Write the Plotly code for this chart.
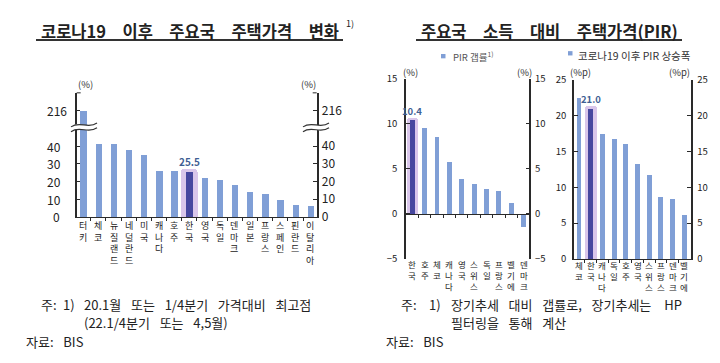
import plotly.graph_objects as go

W, H = 720, 363
FONT = "Noto Sans CJK KR"

# ---------------- data ----------------
left_countries = ['터키', '체코', '뉴질랜드', '네덜란드', '미국', '캐나다', '호주', '한국',
                  '영국', '독일', '덴마크', '일본', '프랑스', '스페인', '핀란드', '이탈리아']
left_values = [216, 41.3, 41.1, 37.8, 35.0, 26.0, 26.0, 25.5,
               22.3, 20.7, 18.2, 14.2, 12.8, 9.4, 7.0, 6.1]
left_tick_values = [0, 10, 20, 30, 40, 216]

mid_countries = ['한국', '호주', '체코', '캐나다', '영국', '스위스', '독일', '프랑스', '벨기에', '덴마크']
mid_values = [10.4, 9.6, 8.5, 5.8, 3.9, 3.3, 2.8, 2.5, 1.25, -1.4]
mid_tick_values = [-5, 0, 5, 10, 15]

right_countries = ['체코', '한국', '캐나다', '독일', '호주', '영국', '스위스', '프랑스', '덴마크', '벨기에']
right_values = [22.5, 21.0, 17.5, 16.7, 16.0, 13.2, 11.7, 8.6, 8.4, 6.1]
right_tick_values = [0, 5, 10, 15, 20, 25]

highlight_country = '한국'

BAR = '#809fd6'
DARK = '#46479f'
HL = '#d9c6ea'
AX = '#2a2a2a'
LBL = '#3f5f93'


def px(x):
    return x / W


def py(y):
    return 1 - y / H


def brk(v):
    # axis break: values above the break are drawn at the "216" tick position
    return v if v <= 45 else 60 + (v - 216) / 8.0


fig = go.Figure()

# ---------- left panel ----------
li = left_countries.index(highlight_country)
fig.add_trace(go.Bar(x=[li], y=[brk(left_values[li]) + 1.6], width=[1.1],
                     marker=dict(color=HL, cornerradius=4, line=dict(width=0)),
                     xaxis='x', yaxis='y', hoverinfo='skip', showlegend=False))
fig.add_trace(go.Bar(x=list(range(len(left_countries))), y=[brk(v) for v in left_values],
                     width=0.42,
                     marker=dict(color=[DARK if c == highlight_country else BAR for c in left_countries],
                                 line=dict(width=0)),
                     xaxis='x', yaxis='y', showlegend=False))
fig.add_trace(go.Scatter(x=[None], y=[None], xaxis='x', yaxis='y2', showlegend=False))

# ---------- middle panel ----------
mi = mid_countries.index(highlight_country)
fig.add_trace(go.Bar(x=[mi], y=[mid_values[mi] + 0.3], width=[0.92],
                     marker=dict(color=HL, cornerradius=3, line=dict(width=0)),
                     xaxis='x2', yaxis='y3', hoverinfo='skip', showlegend=False))
fig.add_trace(go.Bar(x=list(range(len(mid_countries))), y=mid_values, width=0.4,
                     marker=dict(color=[DARK if c == highlight_country else BAR for c in mid_countries],
                                 line=dict(width=0)),
                     xaxis='x2', yaxis='y3', showlegend=False))
fig.add_trace(go.Scatter(x=[None], y=[None], xaxis='x2', yaxis='y4', showlegend=False))

# ---------- right panel ----------
ri = right_countries.index(highlight_country)
fig.add_trace(go.Bar(x=[ri], y=[right_values[ri] + 0.4], width=[1.02],
                     marker=dict(color=HL, cornerradius=3, line=dict(width=0)),
                     xaxis='x3', yaxis='y5', hoverinfo='skip', showlegend=False))
fig.add_trace(go.Bar(x=list(range(len(right_countries))), y=right_values, width=0.42,
                     marker=dict(color=[DARK if c == highlight_country else BAR for c in right_countries],
                                 line=dict(width=0)),
                     xaxis='x3', yaxis='y5', showlegend=False))
fig.add_trace(go.Scatter(x=[None], y=[None], xaxis='x3', yaxis='y6', showlegend=False))

common_y = dict(showline=True, linecolor=AX, linewidth=1.5, ticks='inside', ticklen=4,
                tickcolor=AX, tickwidth=1, showgrid=False, zeroline=False,
                tickfont=dict(family=FONT, size=9.5, color='#222'))
common_x = dict(showline=True, linecolor=AX, linewidth=1.3, ticks='outside', ticklen=3,
                tickcolor=AX, tickwidth=1, showgrid=False, zeroline=False,
                showticklabels=False)

lt_disp = [brk(v) for v in left_tick_values]
lt_text = [str(v) for v in left_tick_values]
big_tick = dict(family=FONT, size=12, color='#222')

fig.update_layout(
    width=W, height=H, margin=dict(l=0, r=0, t=0, b=0),
    paper_bgcolor='white', plot_bgcolor='rgba(0,0,0,0)',
    barmode='overlay', bargap=0, showlegend=False,
    font=dict(family=FONT, color='#222'),
    xaxis=dict(domain=[px(76.7), px(316.7)], range=[-0.43, 15.4], anchor='y',
               tickvals=[i + 0.5 for i in range(len(left_countries) - 1)], **common_x),
    yaxis=dict(domain=[py(218), py(88.5)], range=[0, 70], anchor='x', side='left',
               tickvals=lt_disp, showticklabels=False, automargin=False,
               **{**common_y, 'tickfont': big_tick}),
    yaxis2=dict(overlaying='y', range=[0, 70], anchor='x', side='right',
                tickvals=lt_disp, ticktext=lt_text, ticklabelstandoff=1,
                **{**common_y, 'tickfont': big_tick}),
    xaxis2=dict(domain=[px(406), px(529.3)], range=[-0.5, 9.45], anchor='free',
                position=py(214.8),
                tickvals=[i + 0.5 for i in range(len(mid_countries) - 1)], **common_x),
    yaxis3=dict(domain=[py(261.7), py(74)], range=[-5, 15], anchor='x2', side='left',
                tickvals=mid_tick_values, ticklabelstandoff=5, **common_y),
    yaxis4=dict(overlaying='y3', range=[-5, 15], anchor='x2', side='right',
                tickvals=mid_tick_values, ticklabelstandoff=2, **common_y),
    xaxis3=dict(domain=[px(574), px(690.7)], range=[-0.43, 9.55], anchor='y5',
                tickvals=[i + 0.5 for i in range(len(right_countries) - 1)], **common_x),
    yaxis5=dict(domain=[py(261.7), py(75)], range=[0, 25], anchor='x3', side='left',
                tickvals=right_tick_values, ticklabelstandoff=4, **common_y),
    yaxis6=dict(overlaying='y5', range=[0, 25], anchor='x3', side='right',
                tickvals=right_tick_values, ticklabelstandoff=3, **common_y),
)

ann = []
shapes = []


def text(x, y, s, size, color='#222', xanchor='left', bold=False, xref='paper', yref='paper',
         yanchor='middle', align='center'):
    ann.append(dict(x=x, y=y, xref=xref, yref=yref, text=(f'<b>{s}</b>' if bold else s),
                    showarrow=False, xanchor=xanchor, yanchor=yanchor, borderpad=0, align=align,
                    font=dict(family=FONT, size=size, color=color)))


def hline(x0, x1, y, width=2, color='#333'):
    shapes.append(dict(type='line', xref='paper', yref='paper', x0=px(x0), x1=px(x1),
                       y0=py(y), y1=py(y), line=dict(color=color, width=width)))


# left-panel left tick labels (placed on the panel's own y scale)
for v, d in zip(left_tick_values, lt_disp):
    text(px(46 if v >= 10 else 52), d, str(v), 12, '#222', 'left', yref='y')

# titles
E = '\u2003'
text(px(189.5), py(24), E.join(['코로나19', '이후', '주요국', '주택가격', '변화']), 16.5,
     '#222', 'center', bold=True)
text(px(345), py(16), '1)', 9, '#222', 'left')
hline(36, 343, 33.5)
text(px(549), py(24), E.join(['주요국', '소득', '대비', '주택가격(PIR)']), 16.5,
     '#222', 'center', bold=True)
hline(416, 682, 33.5)

# top hooks on the left panel axes
hline(76.7, 80.7, 88.5, width=1, color=AX)
hline(312.7, 316.7, 88.5, width=1, color=AX)

# legends
shapes.append(dict(type='rect', xref='paper', yref='paper', x0=px(441), x1=px(445.5),
                   y0=py(52.5), y1=py(48), fillcolor=BAR, line=dict(width=0)))
text(px(452), py(50.5), 'PIR 갭률<sup>1)</sup>', 9.5, '#555')
shapes.append(dict(type='rect', xref='paper', yref='paper', x0=px(568), x1=px(572.5),
                   y0=py(49.5), y1=py(45), fillcolor=BAR, line=dict(width=0)))
text(px(577), py(50), '코로나19 이후 PIR 상승폭', 10.5, '#333')

# unit labels
for xx, yy, s in [(85, 79.5, '(%)'), (308, 79.5, '(%)'), (410, 67, '(%)'), (524, 67, '(%)'),
                  (580, 67, '(%p)'), (679, 67, '(%p)')]:
    text(px(xx), py(yy), s, 9.5, '#333', 'center')

# value labels
text(li, brk(25.5) + 5.8, '25.5', 10, LBL, 'center', bold=True, xref='x', yref='y')
text(mi, 11.45, '10.4', 9.5, LBL, 'center', bold=True, xref='x2', yref='y3')
text(ri, 22.4, '21.0', 9.5, LBL, 'center', bold=True, xref='x3', yref='y5')

# vertical category labels (one character per line)
for i, c in enumerate(left_countries):
    text(i, py(219), '<br>'.join(c), 9, '#222', 'center', xref='x', yanchor='top')
for i, c in enumerate(mid_countries):
    text(i, py(259.5), '<br>'.join(c), 8.5, '#222', 'center', xref='x2', yanchor='top')
for i, c in enumerate(right_countries):
    text(i, py(261), '<br>'.join(c), 8.5, '#222', 'center', xref='x3', yanchor='top')

# notes
NS = 13
S = '\u2002\u2005'
note_left_1 = S.join(['20.1월', '또는', '1/4분기', '가격대비', '최고점'])
note_left_2 = S.join(['(22.1/4분기', '또는', '4,5월)'])
note_right_1 = S.join(['장기추세', '대비', '갭률로,', '장기추세는']) + '\u2003HP'
note_right_2 = S.join(['필터링을', '통해', '계산'])
for x0, x1, x2, l1, l2, xs in [(40, 62, 83, note_left_1, note_left_2, 25),
                               (400, 428, 450, note_right_1, note_right_2, 385)]:
    text(px(x0), py(309), '주:', NS)
    text(px(x1), py(309), '1)', NS)
    text(px(x2), py(309), l1, NS)
    text(px(x2), py(328), l2, NS)
    text(px(xs), py(347.5), '자료:' + S + 'BIS', NS)


# axis break marks
def curve(x0, yc):
    return [(x0, yc + 2.5), (x0 + 9, yc - 4.5), (x0 + 17, yc + 5.5), (x0 + 26, yc - 1.5)]


def pstr(pts, start='M'):
    (a, b), p1, p2, p3 = pts
    return (f'{start} {px(a):.5f},{py(b):.5f} C {px(p1[0]):.5f},{py(p1[1]):.5f} '
            f'{px(p2[0]):.5f},{py(p2[1]):.5f} {px(p3[0]):.5f},{py(p3[1]):.5f}')


for x0 in (71, 303):
    top = curve(x0, 121.5)
    bot = curve(x0, 126.5)
    rev = list(reversed(bot))
    band = pstr(top) + ' ' + pstr(rev, 'L') + ' Z'
    shapes.append(dict(type='path', xref='paper', yref='paper', path=band,
                       fillcolor='white', line=dict(width=0), layer='above'))
    for cv in (top, bot):
        shapes.append(dict(type='path', xref='paper', yref='paper', path=pstr(cv),
                           line=dict(color='#333', width=1.2), layer='above'))

fig.update_layout(annotations=ann, shapes=shapes)
fig.write_html('out.html', config={'displayModeBar': False},
               post_script="document.body.style.margin='0';document.body.style.overflow='hidden';")
